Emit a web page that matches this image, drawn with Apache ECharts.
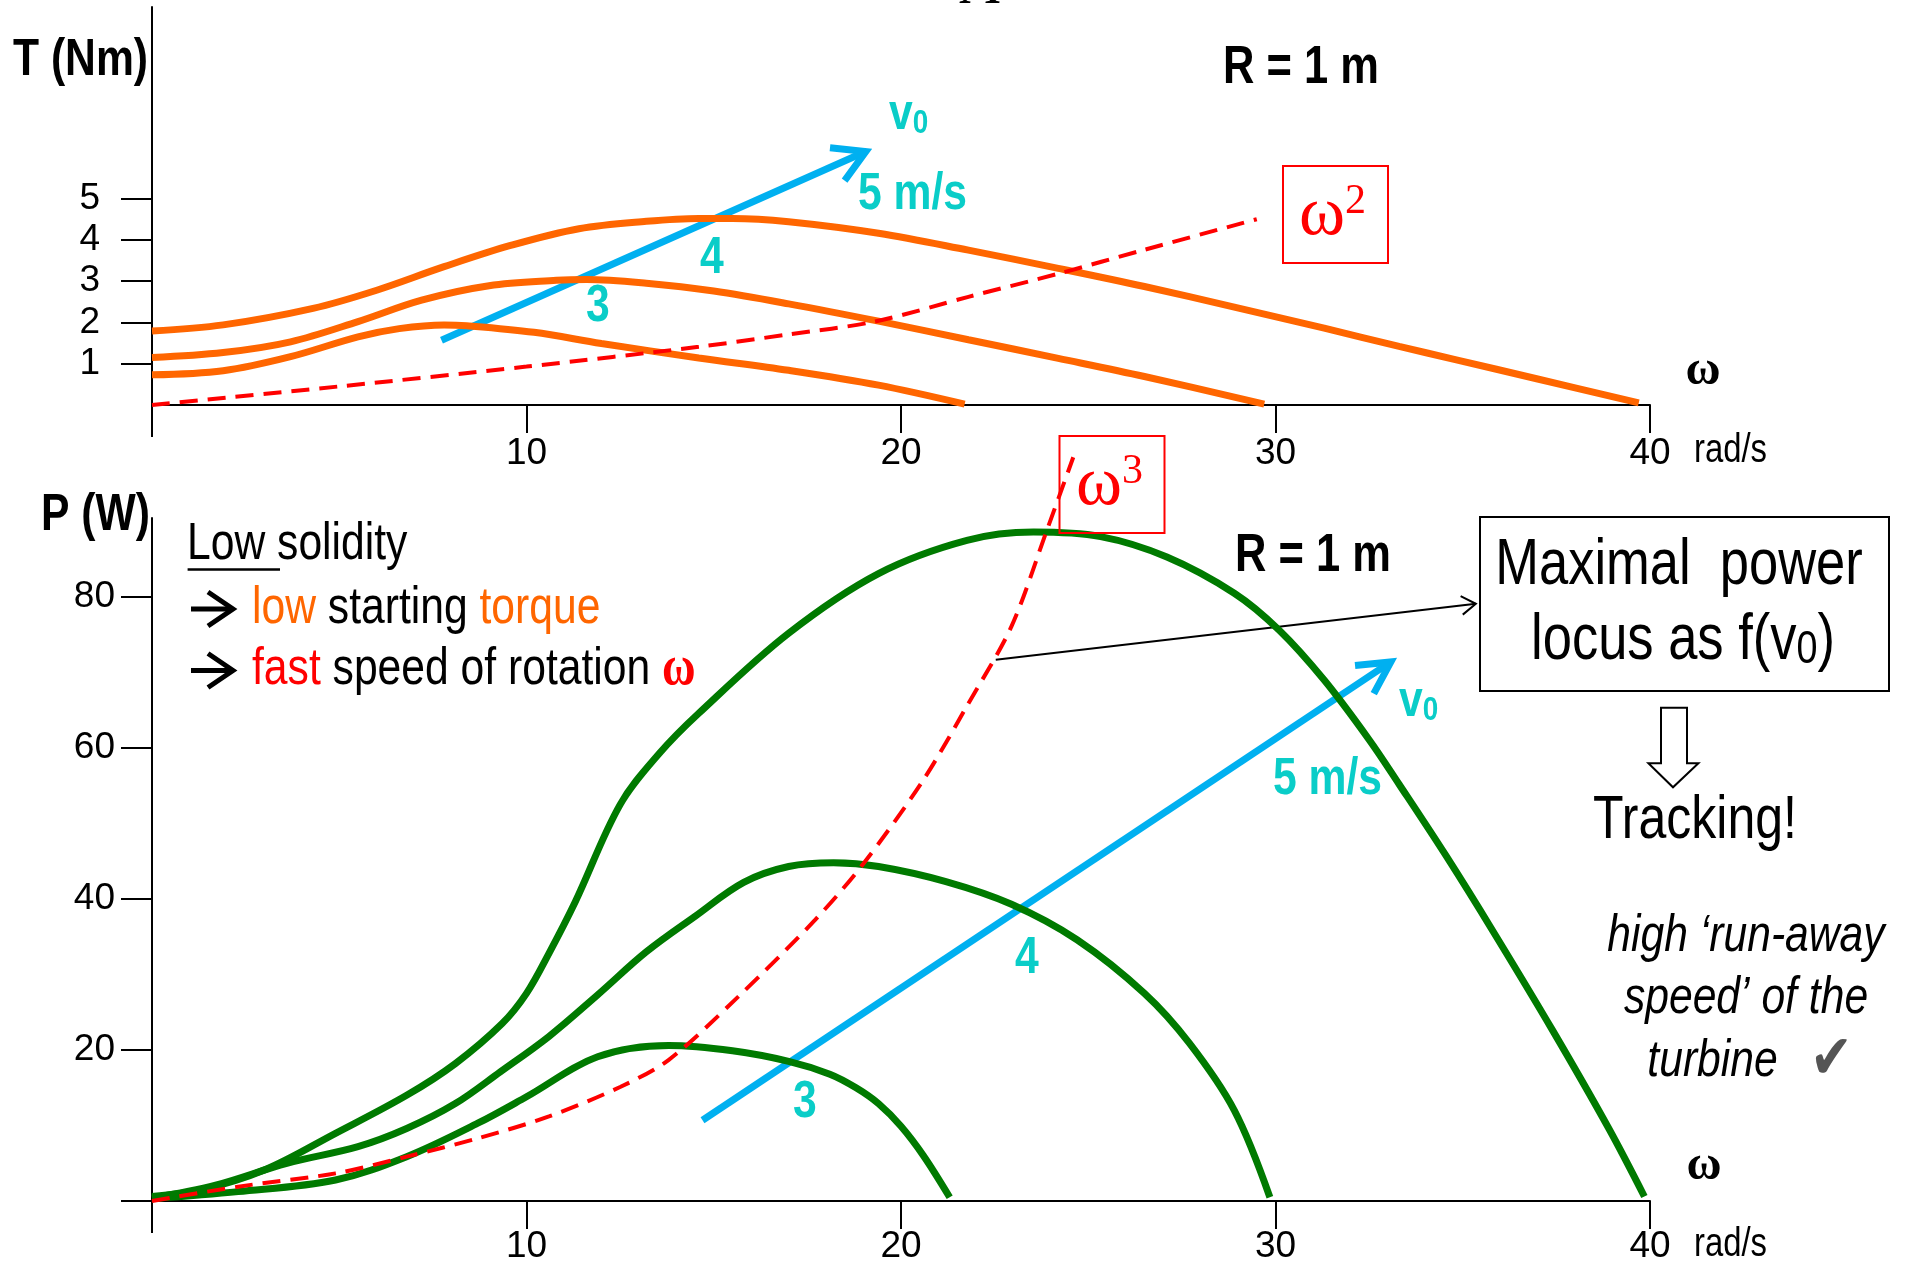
<!DOCTYPE html>
<html><head><meta charset="utf-8">
<script src="https://cdn.jsdelivr.net/npm/echarts@6/dist/echarts.min.js"></script>
<style>html,body{margin:0;padding:0;background:#fff}#c{width:1912px;height:1266px}</style>
</head><body><div id="c"></div>
<script>
// ---- axis ticks ----
const omegaTicks = [10, 20, 30, 40];
const torqueTicks = [1, 2, 3, 4, 5];
const powerTicks = [0, 20, 40, 60, 80];
const powerLabels = [20, 40, 60, 80];
// axis line stubs crossing the origin (x from -2.53 to 0, y below 0)
const torqueAxisStubX = [[-2.53, 0], [0, 0]];
const torqueAxisStubY = [[0, 0], [0, -0.775]];
const powerAxisStubX = [[-2.53, 0], [0, 0]];
const powerAxisStubY = [[0, 0], [0, -4.24]];

// ---- torque curves T(omega) for v0 = 3, 4, 5 m/s ----
const torqueV3 = [[0,0.73],[1.9,0.83],[3.7,1.17],[5.5,1.65],[6.6,1.85],[7.8,1.94],[8.4,1.92],[10.2,1.76],[12.0,1.49],[14.6,1.14],[17.0,0.84],[19.4,0.48],[21.7,0.02]];
const torqueV4 = [[0,1.15],[1.9,1.27],[3.7,1.53],[5.5,2.02],[7.2,2.54],[9.0,2.89],[10.8,3.02],[11.6,3.04],[13.2,2.95],[15.0,2.76],[17.0,2.45],[19.4,2.03],[21.8,1.58],[24.2,1.13],[26.5,0.69],[29.7,0.02]];
const torqueV5 = [[0,1.79],[1.9,1.94],[4.3,2.34],[6.0,2.78],[7.8,3.35],[9.6,3.87],[11.4,4.27],[13.2,4.45],[14.6,4.52],[15.5,4.52],[17.0,4.44],[19.4,4.16],[21.8,3.75],[24.2,3.31],[26.5,2.87],[28.9,2.37],[31.3,1.86],[33.3,1.42],[34.8,1.10],[37.0,0.63],[39.7,0.05]];
const omega2 = [[0,0],[5,0.45],[10,0.93],[14.6,1.41],[17.0,1.71],[19.3,2.02],[21.8,2.62],[24.2,3.18],[26.5,3.76],[29.5,4.5]];
const v0ArrowTorque = [7.73, 1.57, 19.06, 6.14];

// ---- power curves P(omega) for v0 = 3, 4, 5 m/s ----
const powerV3 = [[0,0.3],[2.3,1.24],[4.9,2.78],[6.8,5.87],[8.7,10.3],[10.0,13.8],[11.9,19.1],[13.8,20.6],[15.5,19.9],[17.0,18.5],[18.1,16.8],[18.8,15.0],[19.4,12.9],[20.0,9.9],[20.6,6.0],[21.3,0.5]];
const powerV4 = [[0,0.4],[1.7,2.1],[3.6,5.0],[5.5,7.2],[6.8,9.6],[8.1,12.9],[9.3,17.1],[10.6,21.8],[11.9,27.3],[13.2,33.0],[14.5,37.7],[15.8,42.2],[17.0,44.3],[18.2,44.8],[19.4,44.3],[21.2,42.3],[22.95,39.3],[24.7,34.6],[26.5,27.5],[27.7,20.9],[28.9,12.0],[29.85,0.5]];
const powerV5 = [[0,0.6],[1.3,1.46],[3.0,4.1],[4.9,8.96],[6.8,14.0],[8.1,18.2],[9.35,23.5],[10.0,27.5],[10.6,32.8],[11.3,39.6],[12.5,52.5],[13.55,59.3],[14.6,64.6],[17.0,75.2],[19.4,83.1],[21.76,87.5],[23.54,88.6],[25.33,88.0],[27.1,85.3],[28.9,80.5],[30.1,75.6],[31.3,69.0],[32.5,61.1],[33.3,55.2],[34.57,45.6],[35.8,35.8],[37.4,22.6],[38.9,9.6],[39.85,0.6]];
const omega3 = [[0,0],[2.3,1.9],[4.9,3.66],[6.8,5.87],[8.7,8.3],[10.6,11.2],[12.5,15.1],[13.8,18.7],[15.6,26.8],[17.7,37.2],[19.0,44.7],[20.6,55.8],[21.8,65.9],[22.95,76.1],[23.9,88.9],[24.6,98.5]];
const v0ArrowPower = [14.7, 10.7, 33.08, 71.4];
const locusPointer = [22.53, 71.7, 35.35, 79.1];

// ---- styles ----
const ORANGE = '#FF6600', GREEN = '#007A00', BLUE = '#00B0F0', CYAN = '#0ACDC8', RED = '#FF0000';
const NARROW = "'Liberation Sans Narrow','Arial Narrow','Liberation Sans',sans-serif";
const SERIF = "'Liberation Serif','Times New Roman',serif";
const SQ = 0.82; // horizontal squeeze to mimic a narrow typeface

function xAxisCfg(gi, margin) {
  return {
    type: 'value', gridIndex: gi, min: 0, max: 40,
    axisLine: { onZero: false, lineStyle: { color: '#000', width: 2 } },
    axisTick: { show: true, customValues: omegaTicks, length: 28, lineStyle: { color: '#000', width: 2 } },
    axisLabel: { customValues: omegaTicks, margin: margin, fontFamily: NARROW, fontSize: 37, color: '#000' },
    splitLine: { show: false }
  };
}
function yAxisCfg(gi, max, ticks, labels, margin) {
  return {
    type: 'value', gridIndex: gi, min: 0, max: max,
    axisLine: { onZero: false, lineStyle: { color: '#000', width: 2 } },
    axisTick: { show: true, customValues: ticks, length: 31, lineStyle: { color: '#000', width: 2 } },
    axisLabel: { customValues: labels, margin: margin, fontFamily: NARROW, fontSize: 37, color: '#000' },
    splitLine: { show: false }
  };
}
function curve(xi, data, color, width) {
  return { type: 'line', xAxisIndex: xi, yAxisIndex: xi, data: data, smooth: 0.35, symbol: 'none', silent: true,
    lineStyle: { color: color, width: width } };
}
function stub(xi, data) {
  return { type: 'line', xAxisIndex: xi, yAxisIndex: xi, data: data, symbol: 'none', silent: true, clip: false,
    lineStyle: { color: '#000', width: 2 } };
}
function dashed(xi, data) {
  return { type: 'line', xAxisIndex: xi, yAxisIndex: xi, data: data, smooth: 0.3, symbol: 'none', silent: true, clip: false,
    lineStyle: { color: RED, width: 4, type: [18, 10] } };
}
function arrow(xi, data, color, width, wingLen, wingDeg) {
  return {
    type: 'custom', xAxisIndex: xi, yAxisIndex: xi, data: [data], clip: false, silent: true,
    encode: { x: [0, 2], y: [1, 3] },
    renderItem: function (params, api) {
      const a = api.coord([api.value(0), api.value(1)]);
      const b = api.coord([api.value(2), api.value(3)]);
      const ang = Math.atan2(a[1] - b[1], a[0] - b[0]);
      const w = wingDeg * Math.PI / 180;
      const w1 = [b[0] + wingLen * Math.cos(ang + w), b[1] + wingLen * Math.sin(ang + w)];
      const w2 = [b[0] + wingLen * Math.cos(ang - w), b[1] + wingLen * Math.sin(ang - w)];
      const st = { stroke: color, lineWidth: width, fill: null, lineJoin: 'miter', lineCap: 'butt' };
      return { type: 'group', children: [
        { type: 'polyline', shape: { points: [a, b] }, style: st },
        { type: 'polyline', shape: { points: [w1, b, w2] }, style: st }
      ] };
    }
  };
}
function txt(x, y, text, o) {
  const st = { text: text, fill: o.fill || '#000', fontSize: o.size, fontFamily: o.family || NARROW,
    fontWeight: o.weight || 'normal', fontStyle: o.fstyle || 'normal',
    align: o.align || 'left', textAlign: o.align || 'left',
    verticalAlign: o.va || 'middle', textVerticalAlign: o.va || 'middle' };
  if (o.rich) st.rich = o.rich;
  return { type: 'text', x: x, y: y, scaleX: o.sx == null ? SQ : o.sx, silent: true, z: 10, style: st };
}
function rs(size, color, extra) {
  return Object.assign({ fontSize: size, fill: color, color: color, fontFamily: NARROW }, extra || {});
}
function line(points, color, width) {
  return { type: 'polyline', silent: true, z: 10, shape: { points: points }, style: { stroke: color, lineWidth: width, fill: null } };
}
function box(x, y, w, h, color) {
  return { type: 'rect', silent: true, z: 9, shape: { x: x, y: y, width: w, height: h }, style: { fill: null, stroke: color, lineWidth: 2 } };
}
const v0Rich = {
  v: rs(52, CYAN, { fontWeight: 'bold', lineHeight: 52, verticalAlign: 'top' }),
  s: rs(34, CYAN, { fontWeight: 'bold', lineHeight: 18, verticalAlign: 'bottom' })
};
function omegaPowRich() {
  return {
    w: rs(70, RED, { fontFamily: SERIF, lineHeight: 70, verticalAlign: 'bottom' }),
    s: rs(42, RED, { fontFamily: SERIF, lineHeight: 42, verticalAlign: 'top' })
  };
}

const graphics = [
  txt(981, -13, 'A', { size: 60, family: SERIF, fstyle: 'italic', align: 'center', sx: 1 }),
  txt(13, 61, 'T (Nm)', { size: 52, weight: 'bold' }),
  txt(41, 516, 'P (W)', { size: 52, weight: 'bold' }),
  txt(1223, 68, 'R = 1 m', { size: 53, weight: 'bold' }),
  txt(1235, 556, 'R = 1 m', { size: 53, weight: 'bold' }),
  txt(889, 89, '{v|v}{s|0}', { size: 52, va: 'top', rich: v0Rich }),
  txt(858, 195, '5 m/s', { size: 52, weight: 'bold', fill: CYAN }),
  txt(700, 259, '4', { size: 52, weight: 'bold', fill: CYAN }),
  txt(586, 307, '3', { size: 52, weight: 'bold', fill: CYAN }),
  txt(1399, 676, '{v|v}{s|0}', { size: 52, va: 'top', rich: v0Rich }),
  txt(1273, 780, '5 m/s', { size: 52, weight: 'bold', fill: CYAN }),
  txt(1015, 959, '4', { size: 52, weight: 'bold', fill: CYAN }),
  txt(793, 1103, '3', { size: 52, weight: 'bold', fill: CYAN }),
  txt(1703, 372, 'ω', { size: 48, weight: 'bold', family: SERIF, align: 'center', sx: 1 }),
  txt(1704, 1167, 'ω', { size: 48, weight: 'bold', family: SERIF, align: 'center', sx: 1 }),
  txt(1694, 451, 'rad/s', { size: 40 }),
  txt(1694, 1245, 'rad/s', { size: 40 }),
  box(1283, 166, 105, 97, RED),
  txt(1299, 181, '{w|ω}{s|2}', { size: 70, va: 'top', family: SERIF, fill: RED, rich: omegaPowRich(), sx: 1 }),
  box(1059.5, 436, 105, 97, RED),
  txt(1076, 451, '{w|ω}{s|3}', { size: 70, va: 'top', family: SERIF, fill: RED, rich: omegaPowRich(), sx: 1 }),
  txt(187, 545, 'Low solidity', { size: 52 }),
  line([[187.6, 569.5], [280, 569.5]], '#000', 2.5),
  line([[191, 609], [231, 609]], '#000', 5),
  line([[208, 592], [233, 609], [208, 626]], '#000', 5),
  line([[191, 670.5], [231, 670.5]], '#000', 5),
  line([[208, 653.5], [233, 670.5], [208, 687.5]], '#000', 5),
  txt(252, 608.7, '{o|low}{k| starting }{o|torque}', { size: 52, rich: {
    o: rs(52, ORANGE, { lineHeight: 60 }), k: rs(52, '#000', { lineHeight: 60 }) } }),
  txt(252, 670, '{r|fast}{k| speed of rotation }{w|ω}', { size: 52, rich: {
    r: rs(52, RED, { lineHeight: 60 }), k: rs(52, '#000', { lineHeight: 60 }),
    w: rs(56, RED, { lineHeight: 60, fontFamily: SERIF, fontWeight: 'bold' }) } }),
  box(1480, 517, 409, 174, '#000'),
  txt(1679, 566, 'Maximal  power', { size: 64, align: 'center' }),
  txt(1683, 609, '{a|locus as f(v}{s|0}{a|)}', { size: 64, va: 'top', align: 'center', rich: {
    a: rs(64, '#000', { lineHeight: 64, verticalAlign: 'top' }),
    s: rs(46, '#000', { lineHeight: 25, verticalAlign: 'bottom' }) } }),
  { type: 'polygon', silent: true, z: 10, shape: { points: [[1661, 707.7], [1687, 707.7], [1687, 763.3], [1698.4, 763.3], [1673, 787.3], [1648.4, 763.3], [1661, 763.3]] },
    style: { fill: '#fff', stroke: '#000', lineWidth: 2 } },
  txt(1695, 821, 'Tracking!', { size: 61, align: 'center' }),
  txt(1746, 937, 'high \u2018run-away', { size: 52, fstyle: 'italic', align: 'center' }),
  txt(1746, 999, 'speed\u2019 of the', { size: 52, fstyle: 'italic', align: 'center' }),
  txt(1750, 1062, '{t|turbine}{c|  \u2714}', { size: 52, align: 'center', rich: {
    t: rs(52, '#000', { fontStyle: 'italic', lineHeight: 60 }),
    c: rs(62, '#555', { fontFamily: "'DejaVu Sans',sans-serif", lineHeight: 60 }) } })
];

const chart = echarts.init(document.getElementById('c'), null, { renderer: 'canvas' });
chart.setOption({
  animation: false,
  backgroundColor: '#fff',
  grid: [
    { left: 152, top: 7, width: 1498, height: 398, containLabel: false, outerBoundsMode: 'none' },
    { left: 152, top: 518, width: 1498, height: 683, containLabel: false, outerBoundsMode: 'none' }
  ],
  xAxis: [xAxisCfg(0, 30), xAxisCfg(1, 27)],
  yAxis: [
    yAxisCfg(0, 9.64, torqueTicks, torqueTicks, 52),
    yAxisCfg(1, 90.46, powerTicks, powerLabels, 37)
  ],
  series: [
    stub(0, torqueAxisStubX), stub(0, torqueAxisStubY),
    stub(1, powerAxisStubX), stub(1, powerAxisStubY),
    arrow(0, v0ArrowTorque, BLUE, 7, 36, 30),
    curve(0, torqueV3, ORANGE, 7),
    curve(0, torqueV4, ORANGE, 7),
    curve(0, torqueV5, ORANGE, 7),
    dashed(0, omega2),
    arrow(1, v0ArrowPower, BLUE, 7, 36, 28),
    curve(1, powerV3, GREEN, 7),
    curve(1, powerV4, GREEN, 7),
    curve(1, powerV5, GREEN, 7),
    dashed(1, omega3),
    arrow(1, locusPointer, '#000', 2, 17, 33)
  ],
  graphic: { elements: graphics }
});
</script>
</body></html>
